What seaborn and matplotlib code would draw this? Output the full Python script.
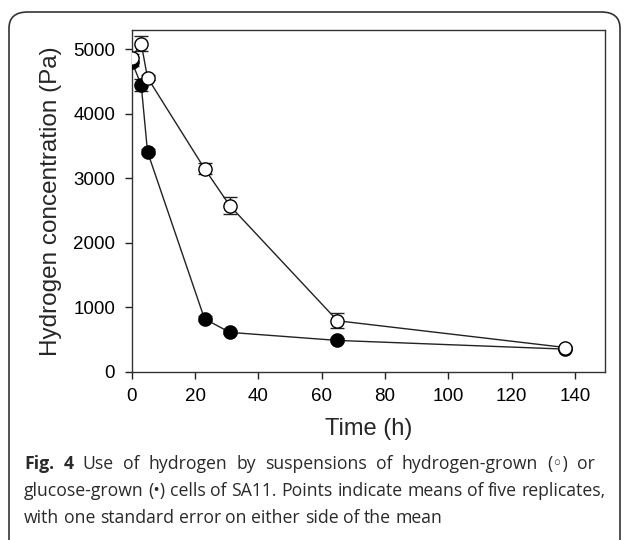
import matplotlib
matplotlib.use("Agg")
import matplotlib.pyplot as plt
import seaborn as sns
import pandas as pd
from matplotlib.patches import FancyBboxPatch

# Data
time_h = [0, 3, 5, 23, 31, 65, 137]
hydrogen_grown = [4870, 5090, 4560, 3150, 2575, 790, 375]
hydrogen_grown_se = [60, 115, 40, 80, 135, 115, 30]
glucose_grown = [4810, 4450, 3410, 820, 610, 485, 350]
glucose_grown_se = [70, 90, 40, 40, 30, 30, 20]
x_ticks = [0, 20, 40, 60, 80, 100, 120, 140]
y_ticks = [0, 1000, 2000, 3000, 4000, 5000]
caption_lines = [
    "Fig. 4 Use of hydrogen by suspensions of hydrogen-grown (\u25e6) or",
    "glucose-grown (\u2022) cells of SA11. Points indicate means of five replicates,",
    "with one standard error on either side of the mean",
]

sns.set_theme(style="ticks")
plt.rcParams['font.family'] = ['Liberation Sans', 'DejaVu Sans']

fig = plt.figure(figsize=(6.27, 5.4), dpi=100)
W, H = 627, 540
ax = fig.add_axes([131.7 / W, 1 - 371.7 / H, (605 - 131.7) / W, (371.7 - 30) / H])

df_g = pd.DataFrame({"t": time_h, "y": glucose_grown})
df_h = pd.DataFrame({"t": time_h, "y": hydrogen_grown})

# glucose-grown (filled)
ax.errorbar(time_h, glucose_grown, yerr=glucose_grown_se, fmt='none', ecolor='#222222',
            elinewidth=1, capsize=5, capthick=1, zorder=2)
sns.lineplot(data=df_g, x="t", y="y", ax=ax, color='#222222', linewidth=1, marker='o',
             markersize=9.5, markerfacecolor='black', markeredgecolor='black',
             markeredgewidth=1, zorder=3, estimator=None)
# hydrogen-grown (open)
ax.errorbar(time_h, hydrogen_grown, yerr=hydrogen_grown_se, fmt='none', ecolor='#222222',
            elinewidth=1, capsize=5, capthick=1, zorder=4)
sns.lineplot(data=df_h, x="t", y="y", ax=ax, color='#222222', linewidth=1, marker='o',
             markersize=9.5, markerfacecolor='white', markeredgecolor='black',
             markeredgewidth=1, zorder=5, estimator=None)

ax.set_xlim(0, 149.5)
ax.set_ylim(0, 5300)
ax.set_xticks(x_ticks)
ax.set_yticks(y_ticks)
ax.tick_params(axis='both', direction='out', length=5, width=1, colors='#222222',
               labelsize=13.5, labelcolor='black', pad=7)
for s in ax.spines.values():
    s.set_linewidth(1)
    s.set_color('#333333')
ax.set_xlabel("Time (h)", fontsize=17, labelpad=9)
ax.set_ylabel("Hydrogen concentration (Pa)", fontsize=17.5, labelpad=8)

# Caption (first line justified, like the journal layout)
cap_font = ['Open Sans', 'DejaVu Sans']
renderer = fig.canvas.get_renderer()


def _width(s, weight='normal'):
    t = fig.text(0, 0, s, fontsize=12.7, family=cap_font, fontweight=weight)
    w = t.get_window_extent(renderer).width
    t.remove()
    return w


def place_line(line, y_px, x0_px, x1_px=None, bold_words=0):
    words = line.split(" ")
    texts = []
    for i, w in enumerate(words):
        t = fig.text(x0_px / W, 1 - y_px / H, w, fontsize=12.7, family=cap_font,
                     fontweight='bold' if i < bold_words else 'normal',
                     va='center', ha='left', color='#2a2a2a')
        texts.append(t)
    widths = [t.get_window_extent(renderer).width for t in texts]
    sp = _width("a b") - _width("ab")
    if x1_px is not None and len(words) > 1:
        gap = max(sp, (x1_px - x0_px - sum(widths)) / (len(words) - 1))
    else:
        gap = sp
    x = x0_px
    for t, w in zip(texts, widths):
        t.set_x(x / W)
        x += w + gap


place_line(caption_lines[0], 464, 24, 595, bold_words=2)
place_line(caption_lines[1], 491, 24)
place_line(caption_lines[2], 518, 24)

# Rounded border
border = FancyBboxPatch((9 / W, -0.1), (620 - 9) / W, (1 - 12 / H) + 0.1,
                        boxstyle="round,pad=0,rounding_size=0.03",
                        transform=fig.transFigure, fill=False, edgecolor='#333333',
                        linewidth=1.2, clip_on=False)
fig.patches.append(border)

fig.savefig("out.png", dpi=100)
